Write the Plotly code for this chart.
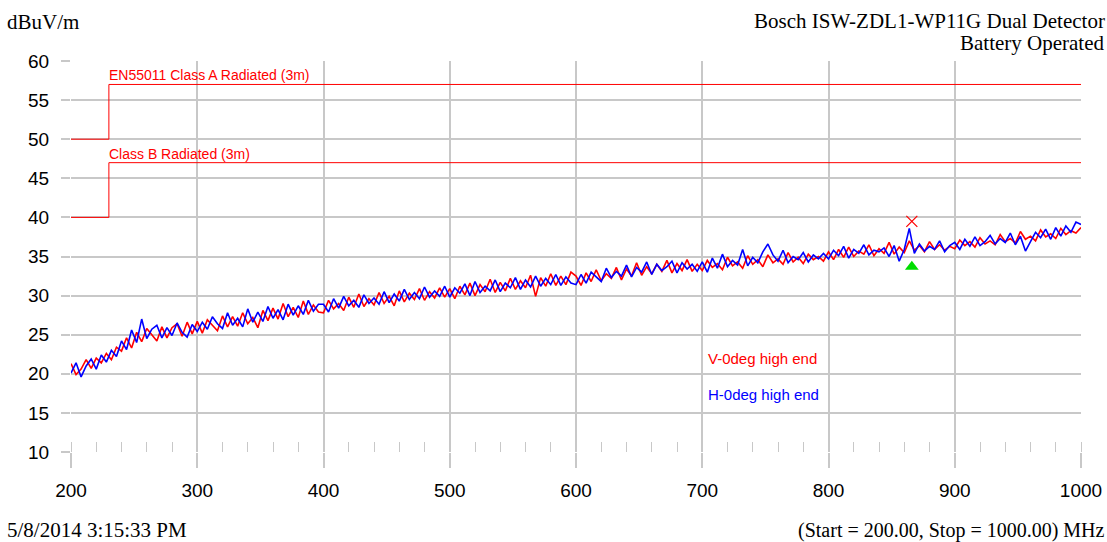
import plotly.graph_objects as go

# ---------------- data ----------------
FREQ_START = 200.0   # MHz
FREQ_STEP = 4.0      # MHz

v_0deg_high_end = [
    # 200 - 296 MHz
    21.3, 19.9, 20.6, 21.8, 20.7, 22.0, 21.4, 22.6, 21.8, 23.4,
    22.9, 24.6, 23.3, 25.3, 24.1, 25.8, 25.0, 24.2, 26.0, 24.6,
    25.9, 26.4, 24.8, 26.6, 25.1,
    # 300 - 396 MHz
    26.7, 25.2, 26.9, 26.2, 25.5, 27.4, 26.0, 27.3, 26.1, 27.8,
    26.4, 27.2, 25.9, 28.1, 26.8, 28.4, 27.0, 29.0, 27.3, 28.5,
    27.2, 29.3, 27.6, 28.8, 27.9,
    # 400 - 496 MHz
    27.8, 29.4, 28.3, 29.0, 28.1, 29.8, 28.5, 30.2, 28.6, 29.6,
    28.8, 30.4, 29.0, 29.9, 28.7, 30.6, 29.2, 30.3, 29.5, 30.9,
    29.4, 30.5, 29.7, 31.0, 29.8,
    # 500 - 596 MHz
    30.9, 29.6, 31.2, 30.1, 31.6, 30.0, 31.4, 30.5, 32.1, 30.4,
    31.7, 30.6, 32.2, 30.8, 31.9, 31.0, 32.6, 29.9, 32.3, 31.2,
    32.8, 31.3, 32.5, 31.4, 33.0,
    # 600 - 696 MHz
    32.5, 31.3, 32.9, 31.8, 33.3, 31.9, 32.8, 32.2, 33.6, 32.0,
    33.4, 32.5, 34.2, 32.6, 33.7, 32.8, 34.0, 33.1, 34.5, 32.9,
    34.1, 33.2, 34.6, 33.1, 34.0,
    # 700 - 796 MHz
    33.2, 34.5, 33.6, 34.1, 33.3, 34.9, 33.8, 34.3, 33.5, 35.1,
    34.0, 34.6, 33.7, 35.2, 34.2, 34.7, 34.0, 35.5, 34.3, 34.9,
    34.1, 35.3, 34.6, 35.0, 34.4,
    # 800 - 896 MHz
    35.6, 34.6, 35.9, 34.9, 36.2, 35.0, 35.7, 35.3, 36.5, 35.1,
    36.0, 35.4, 36.8, 35.3, 36.2, 35.5, 37.0, 35.8, 36.4, 35.6,
    36.9, 35.9, 36.5, 35.8, 36.3,
    # 900 - 1000 MHz
    36.0, 37.1, 36.4, 36.9, 36.2, 37.4, 36.6, 37.0, 36.5, 37.8,
    36.9, 37.3, 36.7, 38.2, 37.2, 37.6, 37.0, 38.4, 37.5, 37.9,
    37.3, 38.6, 37.8, 38.3, 38.0, 38.7,
]

h_0deg_high_end = [
    # 200 - 296 MHz
    20.1, 21.4, 19.6, 21.0, 21.9, 20.6, 22.4, 21.5, 23.0, 22.2,
    24.2, 23.1, 25.6, 24.0, 27.0, 24.5, 25.7, 26.2, 24.6, 25.9,
    24.9, 26.5, 25.3, 24.7, 26.3,
    # 300 - 396 MHz
    25.4, 26.6, 25.7, 27.3, 26.4, 25.8, 27.8, 26.2, 27.1, 26.0,
    28.3, 26.6, 27.9, 26.7, 28.6, 27.1, 28.2, 26.9, 28.9, 27.5,
    28.7, 27.6, 29.4, 28.0, 28.9,
    # 400 - 496 MHz
    28.9, 27.9, 29.6, 28.4, 29.9, 28.7, 29.4, 28.5, 30.1, 29.0,
    29.7, 28.9, 30.5, 29.1, 30.2, 29.3, 30.8, 29.5, 30.4, 29.6,
    31.1, 29.8, 30.6, 29.9, 31.2,
    # 500 - 596 MHz
    29.8, 31.0, 30.3, 31.5, 30.0, 31.8, 30.4, 31.2, 30.6, 32.0,
    30.5, 31.6, 31.0, 32.3, 30.8, 32.0, 31.1, 32.5, 31.2, 32.2,
    31.4, 32.7, 31.3, 32.4, 31.6,
    # 600 - 696 MHz
    31.4, 32.7, 31.6, 33.0, 32.4, 31.8, 33.5, 32.3, 33.1, 32.5,
    33.9, 32.4, 33.6, 33.0, 34.3, 32.7, 34.0, 33.2, 33.7, 34.4,
    32.9, 34.2, 33.4, 34.0, 33.1,
    # 700 - 796 MHz
    34.3, 33.0, 34.8, 33.5, 35.3, 33.7, 34.5, 33.9, 35.9, 33.8,
    34.9, 34.2, 35.6, 36.6, 35.2, 34.4, 35.8, 34.2, 35.0, 34.6,
    35.5, 34.3, 35.2, 34.7, 35.4,
    # 800 - 896 MHz
    34.7, 35.8, 35.1, 36.3, 34.8, 35.9, 35.4, 36.5, 35.2, 35.8,
    35.6, 36.1, 35.0, 36.4, 34.4, 35.9, 38.6, 35.4, 36.6, 35.7,
    36.3, 35.9, 37.0, 35.6, 36.4,
    # 900 - 1000 MHz
    36.8, 35.9, 37.2, 36.3, 37.5, 36.4, 36.9, 37.7, 36.6, 37.3,
    36.8, 38.0, 36.5, 37.6, 35.7, 36.9, 38.1, 37.4, 38.5, 37.2,
    38.7, 37.6, 38.9, 38.1, 39.4, 39.1,
]
assert len(v_0deg_high_end) == 201 and len(h_0deg_high_end) == 201

limit_freq = [200, 230, 1000]
class_a_level = [50, 57, 57]
class_b_level = [40, 47, 47]

marker_freq = [866]
peak_marker_level = [39.5]
tri_marker_level = [33.7]

x_ticks = [200, 300, 400, 500, 600, 700, 800, 900, 1000]
y_ticks = [10, 15, 20, 25, 30, 35, 40, 45, 50, 55, 60]

freq = [FREQ_START + i * FREQ_STEP for i in range(len(v_0deg_high_end))]

RED = "#ff0000"
BLUE = "#0000ff"
GRID = "#c8c8c8"
SANS = "Liberation Sans, Arial, sans-serif"
SERIF = "Liberation Serif, Times New Roman, serif"

fig = go.Figure()

fig.add_trace(go.Scatter(x=limit_freq, y=class_a_level, mode="lines",
                         line=dict(color=RED, width=1, shape="hv"), hoverinfo="skip"))
fig.add_trace(go.Scatter(x=limit_freq, y=class_b_level, mode="lines",
                         line=dict(color=RED, width=1, shape="hv"), hoverinfo="skip"))
fig.add_trace(go.Scatter(x=freq, y=v_0deg_high_end, mode="lines",
                         line=dict(color=RED, width=1.6), name="V-0deg high end"))
fig.add_trace(go.Scatter(x=freq, y=h_0deg_high_end, mode="lines",
                         line=dict(color=BLUE, width=1.6), name="H-0deg high end"))
fig.add_trace(go.Scatter(x=marker_freq, y=peak_marker_level, mode="markers",
                         marker=dict(symbol="x-thin", size=11, line=dict(color=RED, width=1.2))))
fig.add_trace(go.Scatter(x=marker_freq, y=tri_marker_level, mode="markers",
                         marker=dict(symbol="triangle-up", size=12, color="#00dd00")))

W, H = 1107, 542
ML, MR, MT, MB = 71, 26, 61, 90
pw, ph = W - ML - MR, H - MT - MB


def px_anno(px, py, text, xanchor, size, color="black", family=SERIF):
    return dict(x=(px - ML) / pw, y=1 - (py - MT) / ph, xref="paper", yref="paper",
                text=text, xanchor=xanchor, yanchor="middle", showarrow=False,
                font=dict(color=color, size=size, family=family))


annos = [
    dict(x=230, y=57, text="EN55011 Class A Radiated (3m)", xanchor="left", yanchor="bottom",
         xref="x", yref="y", showarrow=False, xshift=-2, yshift=-1,
         font=dict(color=RED, size=14, family=SANS)),
    dict(x=230, y=47, text="Class B Radiated (3m)", xanchor="left", yanchor="bottom",
         xref="x", yref="y", showarrow=False, xshift=-2, yshift=-1,
         font=dict(color=RED, size=14, family=SANS)),
    dict(x=703, y=22, text="V-0deg high end", xanchor="left", yanchor="middle",
         xref="x", yref="y", showarrow=False,
         font=dict(color=RED, size=15, family=SANS)),
    dict(x=703, y=17.4, text="H-0deg high end", xanchor="left", yanchor="middle",
         xref="x", yref="y", showarrow=False,
         font=dict(color=BLUE, size=15, family=SANS)),
    px_anno(5, 22, "dBuV/m", "left", 21),
    px_anno(1107, 21, "Bosch ISW-ZDL1-WP11G Dual Detector", "right", 21),
    px_anno(1107, 43, "Battery Operated", "right", 21),
    px_anno(5, 530, "5/8/2014 3:15:33 PM", "left", 21),
    px_anno(1107, 530, "(Start = 200.00, Stop = 1000.00) MHz", "right", 20),
]

fig.update_layout(
    width=W, height=H,
    margin=dict(l=ML, r=MR, t=MT, b=MB, autoexpand=False),
    paper_bgcolor="white", plot_bgcolor="white",
    showlegend=False,
    annotations=annos,
    xaxis=dict(range=[200, 1000], tickvals=x_ticks, showgrid=True, gridcolor=GRID, gridwidth=1.5,
               zeroline=False, showline=False, ticks="outside", ticklen=15, tickcolor=GRID, tickwidth=1.5,
               ticklabelstandoff=6, automargin=False,
               tickfont=dict(size=19, family=SANS, color="black"),
               minor=dict(dtick=20, ticks="inside", ticklen=10, tickcolor=GRID, tickwidth=1, showgrid=False)),
    yaxis=dict(range=[10, 60], tickvals=y_ticks, showgrid=True, gridcolor=GRID, gridwidth=1.5,
               zeroline=False, showline=False, ticks="outside", ticklen=9, tickcolor=GRID, tickwidth=1.5,
               ticklabelstandoff=8, automargin=False,
               tickfont=dict(size=19, family=SANS, color="black")),
)

fig.write_html("out.html", config={"displayModeBar": False},
               post_script="document.body.style.margin='0px';")
